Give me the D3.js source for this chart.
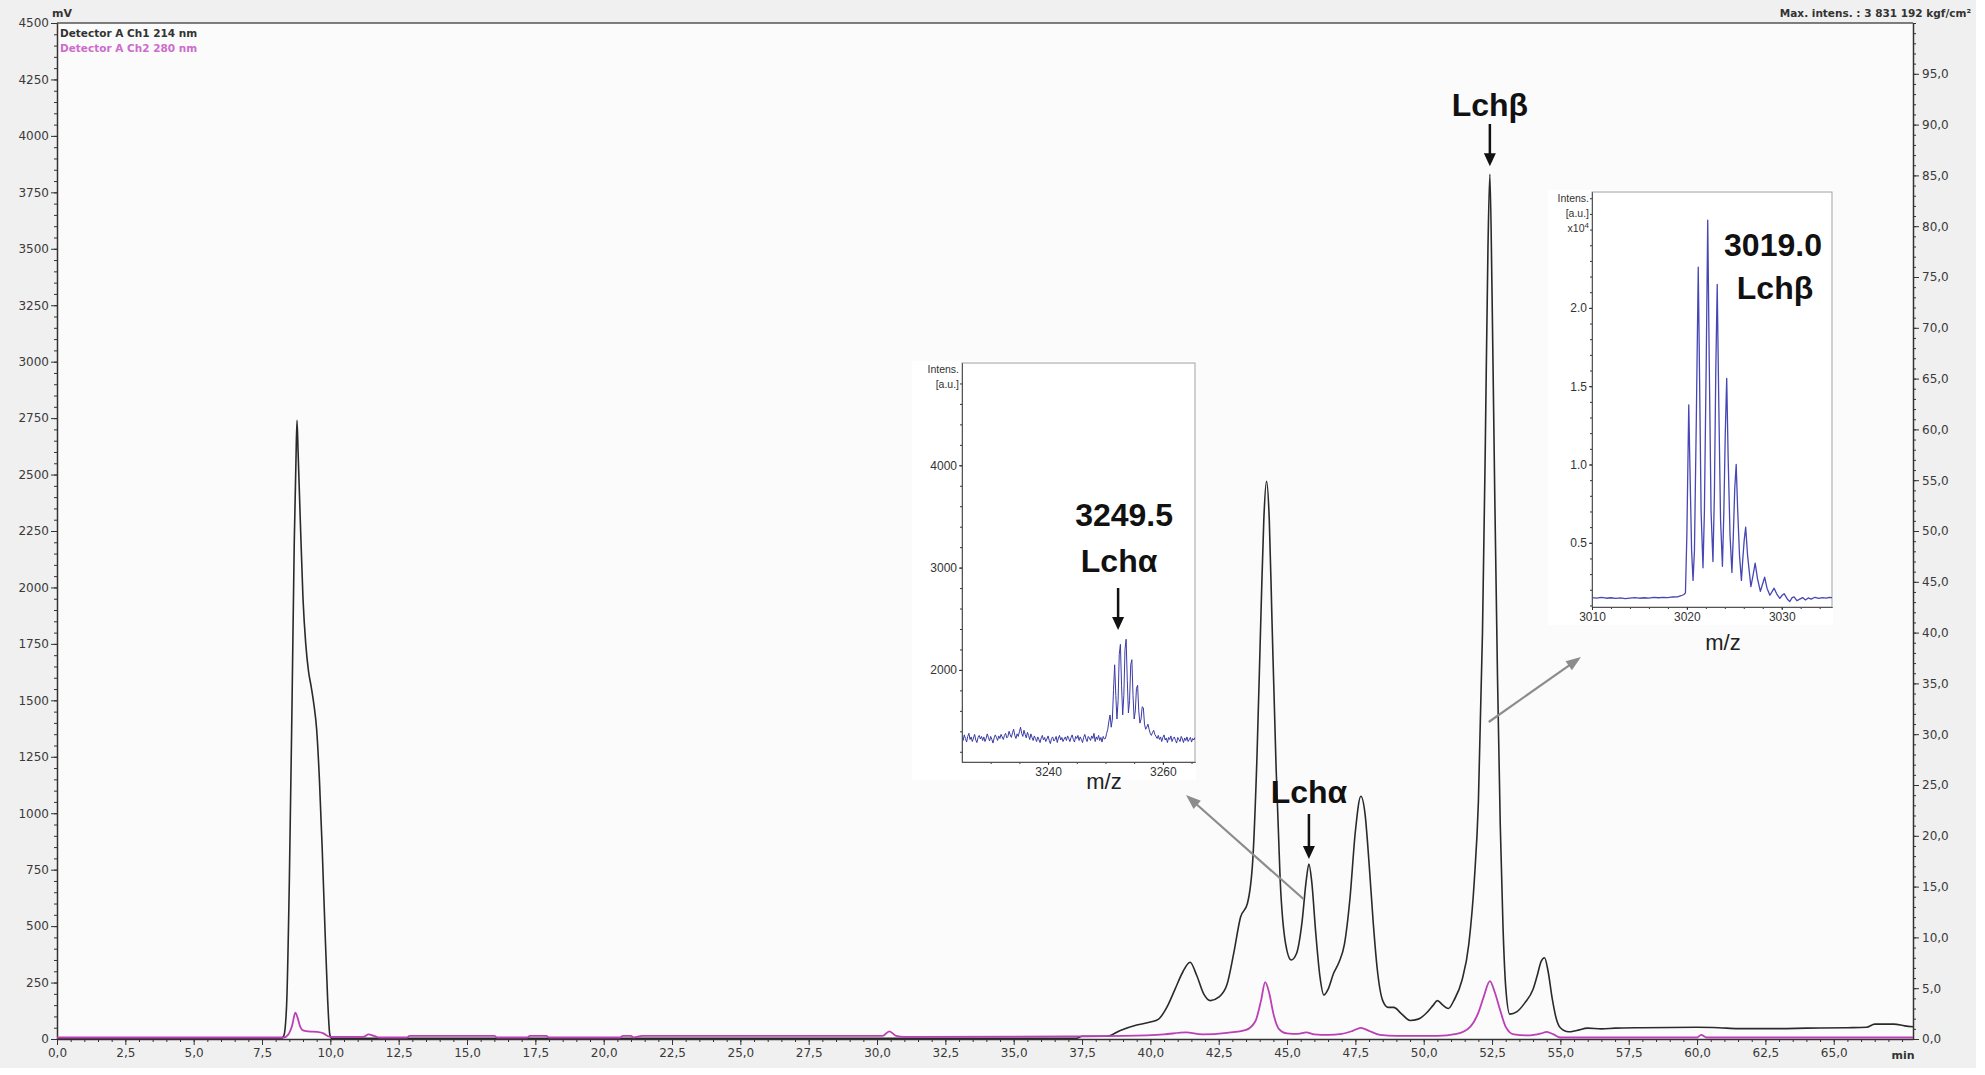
<!DOCTYPE html>
<html><head><meta charset="utf-8">
<script src="https://cdn.jsdelivr.net/npm/d3@7"></script>
<style>
html,body{margin:0;padding:0;background:#fff;}
svg{display:block;}
</style></head><body>
<svg id="chart" width="1985" height="1075"></svg>
<script>
// ================= DATA =================
const timeDomain = [0, 67.9];
const mvDomain = [0, 4500];
const mauDomain = [0, 100];
const xTickValues = [0,2.5,5,7.5,10,12.5,15,17.5,20,22.5,25,27.5,30,32.5,35,37.5,40,42.5,45,47.5,50,52.5,55,57.5,60,62.5,65];
const mvTickValues = [0,250,500,750,1000,1250,1500,1750,2000,2250,2500,2750,3000,3250,3500,3750,4000,4250,4500];
const mauTickValues = [0,5,10,15,20,25,30,35,40,45,50,55,60,65,70,75,80,85,90,95];

const legendLabels = ["Detector A Ch1 214 nm", "Detector A Ch2 280 nm"];

// Ch1 214 nm  [time (min), mV]
const ch1 = [[0,2],[8.2,2],[8.3,15],[8.4,150],[8.5,700],[8.6,1500],[8.68,2200],[8.74,2550],[8.78,2740],[8.82,2600],[8.9,2300],[9.0,1950],[9.1,1750],[9.2,1630],[9.3,1560],[9.4,1480],[9.5,1370],[9.6,1150],[9.7,850],[9.8,500],[9.9,180],[9.98,20],[10.05,3],[37.3,3],[37.5,12],[38.4,12],[38.9,38],[39.5,62],[40.0,75],[40.3,88],[40.6,140],[40.9,220],[41.2,300],[41.45,340],[41.7,280],[41.95,200],[42.2,170],[42.5,185],[42.8,240],[43.05,380],[43.3,540],[43.55,600],[43.75,800],[43.9,1250],[44.05,1900],[44.15,2300],[44.25,2470],[44.35,2300],[44.45,1850],[44.6,1200],[44.75,700],[44.95,420],[45.15,350],[45.35,380],[45.55,520],[45.7,700],[45.8,775],[45.9,700],[46.05,470],[46.2,280],[46.35,195],[46.5,220],[46.7,290],[46.9,340],[47.1,420],[47.3,620],[47.5,920],[47.7,1075],[47.85,1000],[48.0,780],[48.15,520],[48.3,310],[48.5,170],[48.7,140],[48.9,140],[49.2,110],[49.5,82],[49.8,88],[50.1,115],[50.35,150],[50.5,170],[50.7,150],[50.9,135],[51.1,170],[51.4,260],[51.65,420],[51.85,700],[52.0,1050],[52.15,1800],[52.25,2600],[52.35,3500],[52.42,3830],[52.5,3300],[52.6,2400],[52.7,1600],[52.8,950],[52.9,500],[53.0,230],[53.15,110],[53.4,120],[53.7,160],[54.0,220],[54.15,280],[54.3,345],[54.42,360],[54.55,300],[54.7,180],[54.85,90],[55.0,50],[55.3,32],[55.6,38],[56.0,48],[56.5,45],[57.0,48],[58.0,50],[60.0,52],[60.8,50],[61.5,46],[63.0,46],[64.0,48],[65.5,50],[66.2,52],[66.5,66],[67.2,66],[67.6,58],[67.9,54]];

// Ch2 280 nm  [time (min), right-axis units]
const ch2 = [[0,0.15],[8.3,0.15],[8.45,0.4],[8.6,1.3],[8.72,2.6],[8.8,2.1],[8.9,1.2],[9.0,0.85],[9.2,0.75],[9.5,0.7],[9.75,0.55],[9.9,0.3],[10.0,0.2],[11.2,0.2],[11.4,0.45],[11.6,0.3],[11.8,0.15],[12.8,0.15],[12.9,0.3],[16.0,0.3],[16.1,0.15],[17.2,0.15],[17.3,0.3],[17.9,0.3],[18.0,0.15],[20.6,0.15],[20.7,0.3],[21.0,0.3],[21.1,0.15],[21.4,0.3],[30.2,0.3],[30.45,0.75],[30.7,0.3],[31.0,0.2],[31.5,0.2],[37.0,0.25],[39.0,0.3],[40.5,0.45],[41.3,0.65],[41.9,0.45],[42.8,0.6],[43.5,0.9],[43.85,1.8],[44.05,3.8],[44.2,5.6],[44.35,4.5],[44.5,2.5],[44.7,1.0],[45.0,0.55],[45.4,0.5],[45.7,0.65],[46.0,0.45],[46.5,0.4],[47.0,0.5],[47.4,0.8],[47.7,1.1],[48.0,0.8],[48.4,0.4],[49.0,0.3],[50.5,0.3],[51.2,0.5],[51.7,1.2],[52.0,2.6],[52.2,4.2],[52.42,5.7],[52.6,4.6],[52.8,2.8],[53.0,1.2],[53.3,0.45],[53.8,0.35],[54.3,0.55],[54.5,0.7],[54.75,0.45],[55.0,0.15],[60.0,0.15],[60.15,0.4],[60.35,0.15],[67.9,0.15]];

// Inset A (Lcha) mass spectrum: m/z sampled from 3225.0 every 0.2, intensity [a.u.]
const specAStart = 3225.0, specAStep = 0.2;
const specAIntensity = [
1340,1310,1365,1330,1295,1350,1380,1320,1345,1300,
1335,1370,1315,1290,1340,1360,1325,1350,1310,1345,
1300,1330,1375,1340,1305,1350,1320,1285,1335,1365,
1340,1310,1355,1330,1370,1345,1320,1360,1380,1335,
1350,1400,1365,1340,1385,1420,1360,1330,1375,1350,
1395,1440,1380,1350,1410,1370,1335,1390,1360,1320,
1375,1340,1310,1355,1330,1300,1345,1320,1290,1335,
1360,1315,1340,1300,1325,1355,1310,1280,1330,1345,
1305,1320,1350,1290,1335,1360,1315,1340,1300,1325,
1345,1310,1355,1330,1300,1340,1365,1320,1295,1350,
1330,1360,1310,1345,1320,1290,1340,1370,1325,1300,
1350,1335,1310,1355,1330,1380,1300,1345,1320,1360,
1310,1340,1295,1350,1325,
1330,1380,1420,1500,1560,
1440,1520,1800,2050,1750,
1520,1700,2150,2250,1850,
1560,1750,2200,2300,1900,
1580,1700,2050,2100,1750,
1520,1600,1820,1850,1600,
1480,1520,1640,1630,1470,
1420,1440,1470,1420,1380,
1360,1390,1410,1370,1350,
1330,1360,1320,1345,1300,1340,1365,1315,1335,1290,
1340,1320,1355,1300,1330,1345,1310,1285,1340,1320,
1300,1350,1325,1290,1335,1310,1345,1300,1320,1340,
1295,1330,1315,1340];
const specADomainX = [3225, 3265.6], specADomainY = [1100, 5000];
const specATicks = [2000, 3000, 4000], specAXTicks = [3240, 3260];

// Inset B (Lchb) mass spectrum: [m/z, intensity x10^4]
const specB = [[3010.0,0.150],[3010.5,0.147],[3011.0,0.151],[3011.5,0.146],[3012.0,0.149],[3012.5,0.145],[3013.0,0.148],[3013.5,0.144],[3014.0,0.147],[3014.5,0.150],[3015.0,0.146],[3015.5,0.149],[3016.0,0.147],[3016.5,0.151],[3017.0,0.149],[3017.5,0.152],[3018.0,0.150],[3018.5,0.154],[3019.0,0.155],[3019.4,0.162],[3019.7,0.170],[3019.85,0.18],[3020.0,0.55],[3020.2,1.38],[3020.35,0.9],[3020.5,0.45],[3020.65,0.26],[3020.8,0.45],[3021.0,1.3],[3021.2,2.26],[3021.35,1.5],[3021.5,0.7],[3021.7,0.34],[3021.85,0.7],[3022.05,1.7],[3022.2,2.56],[3022.35,1.7],[3022.55,0.7],[3022.75,0.38],[3022.9,0.8],[3023.05,1.6],[3023.2,2.15],[3023.35,1.45],[3023.55,0.65],[3023.75,0.35],[3023.9,0.7],[3024.05,1.2],[3024.2,1.55],[3024.35,1.05],[3024.55,0.55],[3024.75,0.31],[3024.9,0.55],[3025.05,0.85],[3025.2,1.0],[3025.35,0.72],[3025.55,0.42],[3025.75,0.26],[3025.9,0.4],[3026.05,0.52],[3026.2,0.6],[3026.4,0.42],[3026.75,0.22],[3027.0,0.3],[3027.2,0.37],[3027.45,0.27],[3027.75,0.19],[3028.0,0.24],[3028.2,0.28],[3028.45,0.21],[3028.75,0.165],[3029.0,0.19],[3029.2,0.21],[3029.5,0.17],[3029.8,0.145],[3030.05,0.165],[3030.25,0.175],[3030.6,0.14],[3030.85,0.125],[3031.1,0.15],[3031.3,0.155],[3031.6,0.13],[3031.9,0.14],[3032.2,0.15],[3032.5,0.135],[3032.8,0.148],[3033.1,0.14],[3033.5,0.152],[3033.9,0.145],[3034.3,0.15],[3034.7,0.147],[3035.0,0.152],[3035.3,0.15]];
const specBDomainX = [3010, 3035.3], specBDomainY = [0.09, 2.74];
const specBTicks = [0.5, 1.0, 1.5, 2.0], specBXTicks = [3010, 3020, 3030];

// annotation targets
const lchaPeak = [45.8, 775], lchbPeak = [52.42, 3830];
const lchaMz = 3252.2, lchaText = ["3249.5", "Lch\u03b1"], lchbText = ["3019.0", "Lch\u03b2"];

// ================= DRAW =================
const W = 1985, H = 1075;
const M = {left: 57, right: 1913, top: 23, bottom: 1039};
const svg = d3.select('#chart');
const tickFont = 'DejaVu Sans, Verdana, sans-serif';
const arial = 'Liberation Sans, Arial, sans-serif';

svg.append('rect').attr('width', W).attr('height', H).attr('fill', '#ffffff');
svg.append('rect').attr('width', 1976).attr('height', 1068).attr('fill', '#f0f0f0');
svg.append('rect').attr('x', M.left).attr('y', M.top).attr('width', M.right - M.left).attr('height', M.bottom - M.top).attr('fill', '#fbfbfb');

const x = d3.scaleLinear().domain(timeDomain).range([M.left, M.right]);
const yL = d3.scaleLinear().domain(mvDomain).range([M.bottom, M.top]);
const yR = d3.scaleLinear().domain(mauDomain).range([M.bottom, M.top]);
const comma = d => d.toFixed(1).replace('.', ',');

function styleAxis(g, size, color, font) {
  g.selectAll('path,line').attr('stroke', '#333').attr('stroke-width', 1);
  g.selectAll('text').attr('fill', color || '#3a3a3a').attr('font-family', font || tickFont).attr('font-size', size || 12);
}

// top frame line
svg.append('line').attr('x1', M.left).attr('x2', M.right).attr('y1', M.top).attr('y2', M.top).attr('stroke', '#555').attr('stroke-width', 1.5);

// left axis
svg.append('g').attr('transform', `translate(${M.left},0)`)
  .call(d3.axisLeft(yL).tickValues(d3.range(0, 4501, 50)).tickSize(3).tickFormat('').tickSizeOuter(0)).call(g => styleAxis(g));
svg.append('g').attr('transform', `translate(${M.left},0)`)
  .call(d3.axisLeft(yL).tickValues(mvTickValues).tickSize(6).tickPadding(2).tickSizeOuter(0).tickFormat(d => d))
  .call(g => { styleAxis(g); g.select('.domain').attr('stroke-width', 1.5); });
// right axis
svg.append('g').attr('transform', `translate(${M.right},0)`)
  .call(d3.axisRight(yR).tickValues(d3.range(0, 100.1, 1)).tickSize(3).tickFormat('').tickSizeOuter(0)).call(g => styleAxis(g));
svg.append('g').attr('transform', `translate(${M.right},0)`)
  .call(d3.axisRight(yR).tickValues(mauTickValues).tickSize(6).tickPadding(3).tickSizeOuter(0).tickFormat(comma))
  .call(g => { styleAxis(g); g.select('.domain').attr('stroke-width', 1.5); });
// bottom axis
svg.append('g').attr('transform', `translate(0,${M.bottom})`)
  .call(d3.axisBottom(x).tickValues(d3.range(0, 67.9, 0.5)).tickSize(3).tickFormat('').tickSizeOuter(0)).call(g => styleAxis(g));
svg.append('g').attr('transform', `translate(0,${M.bottom})`)
  .call(d3.axisBottom(x).tickValues(xTickValues).tickSize(6).tickPadding(3).tickSizeOuter(0).tickFormat(comma))
  .call(g => { styleAxis(g); g.select('.domain').attr('stroke-width', 1.5); });

svg.append('text').attr('x', 1903).attr('y', 1059).attr('text-anchor', 'middle').attr('font-family', tickFont).attr('font-size', 11).attr('font-weight', 'bold').attr('fill', '#333').text('min');
svg.append('text').attr('x', 52).attr('y', 17).attr('font-family', tickFont).attr('font-size', 11).attr('font-weight', 'bold').attr('fill', '#333').text('mV');
svg.append('text').attr('x', 1971).attr('y', 17).attr('text-anchor', 'end').attr('font-family', tickFont).attr('font-size', 10.5).attr('font-weight', 'bold').attr('fill', '#333')
  .text('Max. intens. : 3 831 192 kgf/cm\u00b2');

// legend
const legendColors = ['#333333', '#cc6ccc'];
legendLabels.forEach((t, i) => {
  svg.append('text').attr('x', 60).attr('y', 37 + i * 14.5).attr('font-family', tickFont).attr('font-size', 10.5).attr('font-weight', 'bold')
    .attr('fill', legendColors[i]).text(t);
});

// clip
svg.append('clipPath').attr('id', 'plotClip').append('rect').attr('x', M.left).attr('y', M.top).attr('width', M.right - M.left).attr('height', M.bottom - M.top + 1);

const plot = svg.append('g').attr('clip-path', 'url(#plotClip)');
plot.append('path').datum(ch1)
  .attr('d', d3.line().x(d => x(d[0])).y(d => yL(d[1])).curve(d3.curveMonotoneX))
  .attr('fill', 'none').attr('stroke', '#2a2a2a').attr('stroke-width', 1.6).attr('stroke-linejoin', 'round');
plot.append('path').datum(ch2)
  .attr('d', d3.line().x(d => x(d[0])).y(d => yR(d[1])).curve(d3.curveMonotoneX))
  .attr('fill', 'none').attr('stroke', '#bb3fb5').attr('stroke-width', 1.8).attr('stroke-linejoin', 'round');

// ---- arrows helper ----
function arrow(x1, y1, x2, y2, color, width, headLen, headW) {
  const dx = x2 - x1, dy = y2 - y1, len = Math.hypot(dx, dy);
  const ux = dx / len, uy = dy / len, nx = -uy, ny = ux;
  const bx = x2 - ux * headLen, by = y2 - uy * headLen;
  svg.append('line').attr('x1', x1).attr('y1', y1).attr('x2', bx + ux * 1).attr('y2', by + uy * 1)
    .attr('stroke', color).attr('stroke-width', width);
  svg.append('path').attr('d', `M${x2},${y2}L${bx + nx * headW / 2},${by + ny * headW / 2}L${bx - nx * headW / 2},${by - ny * headW / 2}Z`).attr('fill', color);
}

// ---- insets ----
function inset(cfg) {
  const g = svg.append('g');
  g.append('rect').attr('x', cfg.box[0]).attr('y', cfg.box[1]).attr('width', cfg.box[2]).attr('height', cfg.box[3]).attr('fill', '#ffffff');
  const [fx0, fy0, fx1, fy1] = cfg.frame;
  const sx = d3.scaleLinear().domain(cfg.dx).range([fx0, fx1]);
  const sy = d3.scaleLinear().domain(cfg.dy).range([fy1, fy0]);
  g.append('rect').attr('x', fx0).attr('y', fy0).attr('width', fx1 - fx0).attr('height', fy1 - fy0).attr('fill', 'none').attr('stroke', '#a0a0a0').attr('stroke-width', 1);
  const id = 'clip' + cfg.id;
  svg.append('clipPath').attr('id', id).append('rect').attr('x', fx0).attr('y', fy0).attr('width', fx1 - fx0).attr('height', fy1 - fy0);
  g.append('path').datum(cfg.data).attr('clip-path', `url(#${id})`)
    .attr('d', d3.line().x(d => sx(d[0])).y(d => sy(d[1])))
    .attr('fill', 'none').attr('stroke', cfg.color).attr('stroke-width', cfg.lw).attr('stroke-linejoin', 'round');
  g.append('g').attr('transform', `translate(${fx0},0)`).call(d3.axisLeft(sy).tickValues(cfg.minorY).tickSize(2).tickFormat('').tickSizeOuter(0)).call(a => styleAxis(a));
  g.append('g').attr('transform', `translate(${fx0},0)`).call(d3.axisLeft(sy).tickValues(cfg.ticksY).tickSize(3).tickPadding(2).tickSizeOuter(0).tickFormat(cfg.fmtY))
    .call(a => { styleAxis(a, 12, '#333', arial); a.select('.domain').attr('stroke', '#555'); });
  g.append('g').attr('transform', `translate(0,${fy1})`).call(d3.axisBottom(sx).tickValues(cfg.minorX).tickSize(2).tickFormat('').tickSizeOuter(0)).call(a => styleAxis(a));
  g.append('g').attr('transform', `translate(0,${fy1})`).call(d3.axisBottom(sx).tickValues(cfg.ticksX).tickSize(3).tickPadding(2).tickSizeOuter(0).tickFormat(d => d))
    .call(a => { styleAxis(a, 12, '#333', arial); a.select('.domain').attr('stroke', '#555'); });
  // axis title
  cfg.ylab.forEach((t, i) => {
    const tx = g.append('text').attr('x', fx0 - 3).attr('y', fy0 + 10 + i * 15).attr('text-anchor', 'end').attr('font-family', arial).attr('font-size', 10.5).attr('fill', '#333');
    if (t === 'x10^4') { tx.text('x10'); tx.append('tspan').attr('dy', -4).attr('font-size', 8).text('4'); }
    else tx.text(t);
  });
  g.append('text').attr('x', cfg.mzPos[0]).attr('y', cfg.mzPos[1]).attr('text-anchor', 'middle').attr('font-family', arial).attr('font-size', 22).attr('fill', '#222').text('m/z');
  return {sx, sy};
}

const specA = specAIntensity.map((v, i) => [specAStart + i * specAStep, v]);
const iA = inset({
  id: 'A', box: [912, 361, 284, 419], frame: [962, 363, 1195, 762], dx: specADomainX, dy: specADomainY,
  data: specA, color: '#3a3aa6', lw: 1.0,
  minorY: d3.range(1200, 5000, 200), ticksY: specATicks, fmtY: d => d,
  minorX: d3.range(3230, 3266, 5), ticksX: specAXTicks,
  ylab: ['Intens.', '[a.u.]'], mzPos: [1104, 789]
});
const iB = inset({
  id: 'B', box: [1548, 190, 285, 435], frame: [1592, 192, 1832, 607], dx: specBDomainX, dy: specBDomainY,
  data: specB, color: '#4646b4', lw: 1.3,
  minorY: d3.range(0.1, 2.75, 0.1), ticksY: specBTicks, fmtY: d => d.toFixed(1),
  minorX: d3.range(3012, 3036, 2), ticksX: specBXTicks,
  ylab: ['Intens.', '[a.u.]', 'x10^4'], mzPos: [1723, 650]
});

// bold annotation labels
function bold(t, cx, by, size) {
  svg.append('text').attr('x', cx).attr('y', by).attr('text-anchor', 'middle').attr('font-family', arial).attr('font-weight', 'bold').attr('font-size', size || 32).attr('fill', '#111').text(t);
}
// inset A annotation
const aX = iA.sx(lchaMz);
bold(lchaText[0], aX + 6, 526);
bold(lchaText[1], aX + 1, 572);
arrow(aX, 588, aX, 630, '#111', 2.5, 13, 12);
// inset B annotation
bold(lchbText[0], 1773, 256);
bold(lchbText[1], 1775, 299);

// main peak annotations
const bX = x(lchbPeak[0]);
bold(lchbText[1], bX, 116);
arrow(bX, 124, bX, yL(lchbPeak[1]) - 8, '#111', 2.5, 13, 12);
const cX = x(lchaPeak[0]);
bold(lchaText[1], cX, 803);
arrow(cX, 814, cX, yL(lchaPeak[1]) - 5, '#111', 2.5, 13, 12);

// grey pointer arrows from peaks to insets
arrow(x(45.6), yL(620), 1186, 795, '#8c8c8c', 2.2, 15, 11);
arrow(x(52.38), yL(1404), 1581, 657, '#8c8c8c', 2.2, 15, 11);
</script>
</body></html>
